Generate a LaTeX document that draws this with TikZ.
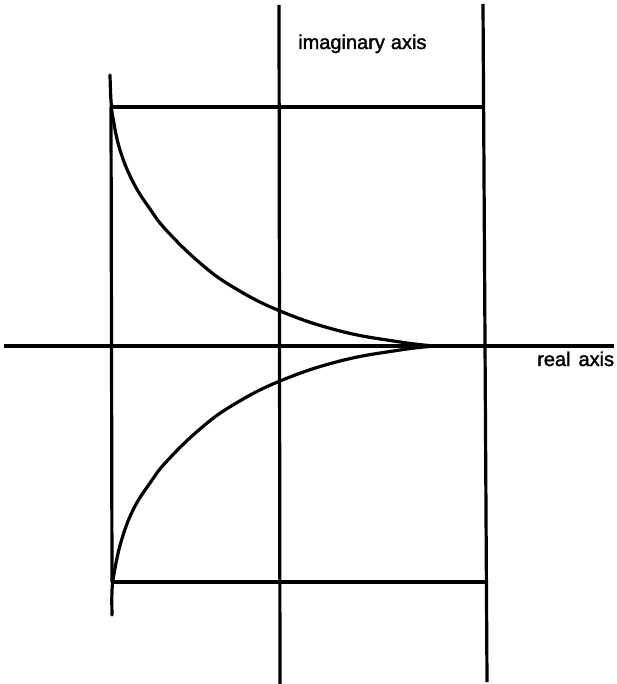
\documentclass[tikz,border=0pt]{standalone}
\usepackage{fontspec}
\setmainfont{Liberation Sans}
\newfontfamily\lblfont{Liberation Sans}[FakeBold=1.6]
\begin{document}
\begin{tikzpicture}[x=1pt,y=-1pt,
  axisline/.style={line width=3.2pt},
  curveline/.style={line width=3.2pt,line cap=round},
  lbl/.style={anchor=base west,inner sep=0pt,font=\fontsize{20}{24}\lblfont}]
\useasboundingbox (0,0) rectangle (617,684);
% named points
\coordinate (realL) at (4,346);
\coordinate (realR) at (614,346);
\coordinate (imT) at (279,5);
\coordinate (imB) at (280,684);
\coordinate (rT) at (483,4);
\coordinate (rB) at (487,682);
\coordinate (tl) at (110,107);
\coordinate (tr) at (485,107);
\coordinate (bl) at (112,582);
\coordinate (br) at (486,582);
% axes and lines
\draw[axisline] (realL) -- (realR);
\draw[axisline] (imT) -- (imB);
\draw[axisline] (rT) -- (rB);
\draw[axisline] (tl) -- (tr);
\draw[axisline] (bl) -- (br);
\draw[axisline] (111,107) -- (112,582);
% curves (x = 111+u, y = 346 -/+ d)
\draw[curveline,shift={(111,346)}] plot[smooth,tension=0.7] coordinates {(-1,-271) (0,-245) (2,-228) (9,-196) (22,-164) (39,-137) (56,-115) (89,-83) (122,-59) (169,-35) (229,-15) (289,-4) (324,0)};
\draw[curveline,shift={(111,346)}] plot[smooth,tension=0.7] coordinates {(1,269) (1,245) (3,228) (10,196) (22,164) (39,137) (56,115) (89,83) (122,59) (169,35) (229,15) (289,4) (324,0)};
% labels
\node[lbl] (imlabel) at (298,49) {imaginary\hspace{0.3em}axis};
\node[lbl] (relabel) at (537,366) {real\hspace{0.4em}axis};
\end{tikzpicture}
\end{document}
